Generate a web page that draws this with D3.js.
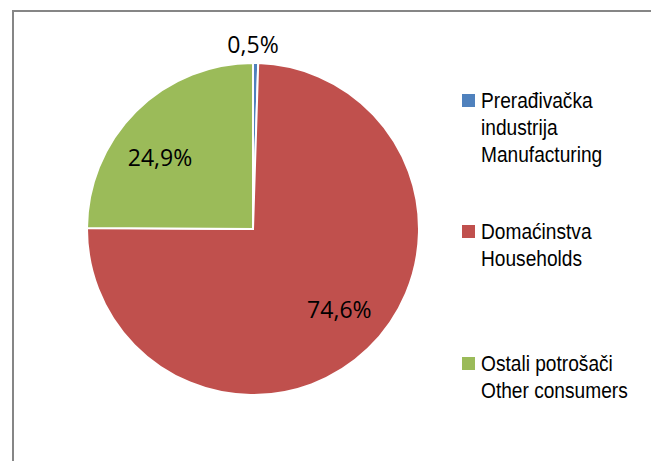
<!DOCTYPE html>
<html>
<head>
<meta charset="utf-8">
<script src="https://cdn.jsdelivr.net/npm/d3@7"></script>
<style>
  html, body { margin: 0; padding: 0; background: #fff; }
  svg { display: block; }
</style>
</head>
<body>
<div id="chart"></div>
<script>
// Podaci (udio u %)
const categories = ["Prerađivačka industrija Manufacturing", "Domaćinstva Households", "Ostali potrošači Other consumers"];
const values = [0.5, 74.6, 24.9];
const valueLabels = ["0,5%", "74,6%", "24,9%"];
const legendLines = [
  ["Prerađivačka", "industrija", "Manufacturing"],
  ["Domaćinstva", "Households"],
  ["Ostali potrošači", "Other consumers"]
];
const colors = ["#4F81BD", "#C0504D", "#9BBB59"];

const W = 651, H = 461;
const cx = 253, cy = 229, R = 166;

const svg = d3.select("#chart").append("svg")
  .attr("width", W)
  .attr("height", H);

// okvir grafikona
svg.append("rect")
  .attr("x", 13).attr("y", 11)
  .attr("width", W + 20).attr("height", H + 20)
  .attr("fill", "none")
  .attr("stroke", "#868686")
  .attr("stroke-width", 2);

const pie = d3.pie().sort(null).value(d => d);
const arc = d3.arc().innerRadius(0).outerRadius(R);
const arcs = pie(values);

const g = svg.append("g").attr("transform", `translate(${cx},${cy})`);

g.selectAll("path.slice")
  .data(arcs)
  .join("path")
  .attr("class", "slice")
  .attr("d", arc)
  .attr("fill", (d, i) => colors[i])
  .attr("stroke", "#fff")
  .attr("stroke-width", 2);

// pozicije oznaka: udio radijusa i pomak ugla (stepeni) od sredine isjecka
const labelRadius = [1.114, 0.71, 0.705];
const labelShift = [-0.9, -3.2, -7.8];
const labelFont = "'Open Sans', 'Noto Sans', sans-serif";
g.selectAll("text.val")
  .data(arcs)
  .join("text")
  .attr("class", "val")
  .attr("text-anchor", "middle")
  .attr("font-family", labelFont)
  .attr("font-size", 24)
  .attr("fill", "#000")
  .attr("dy", 8.5)
  .attr("transform", (d, i) => {
    const a = (d.startAngle + d.endAngle) / 2 + labelShift[i] * Math.PI / 180;
    const r = R * labelRadius[i];
    return `translate(${r * Math.sin(a)},${-r * Math.cos(a)}) scale(0.96,1)`;
  })
  .text((d, i) => valueLabels[i]);

// Legenda
const legendX = 462;
const groupBaselines = [108, 239, 371];
const lineH = 27;
const legend = svg.append("g");

legendLines.forEach((lines, i) => {
  const base = groupBaselines[i];
  legend.append("rect")
    .attr("x", legendX)
    .attr("y", base - 14)
    .attr("width", 13)
    .attr("height", 13)
    .attr("fill", colors[i]);
  lines.forEach((t, j) => {
    legend.append("text")
      .attr("transform", `translate(${legendX + 19},${base + j * lineH}) scale(0.87,1)`)
      .attr("font-family", "'Liberation Sans', Arial, sans-serif")
      .attr("font-size", 22)
      .attr("fill", "#000")
      .text(t);
  });
});
</script>
</body>
</html>
